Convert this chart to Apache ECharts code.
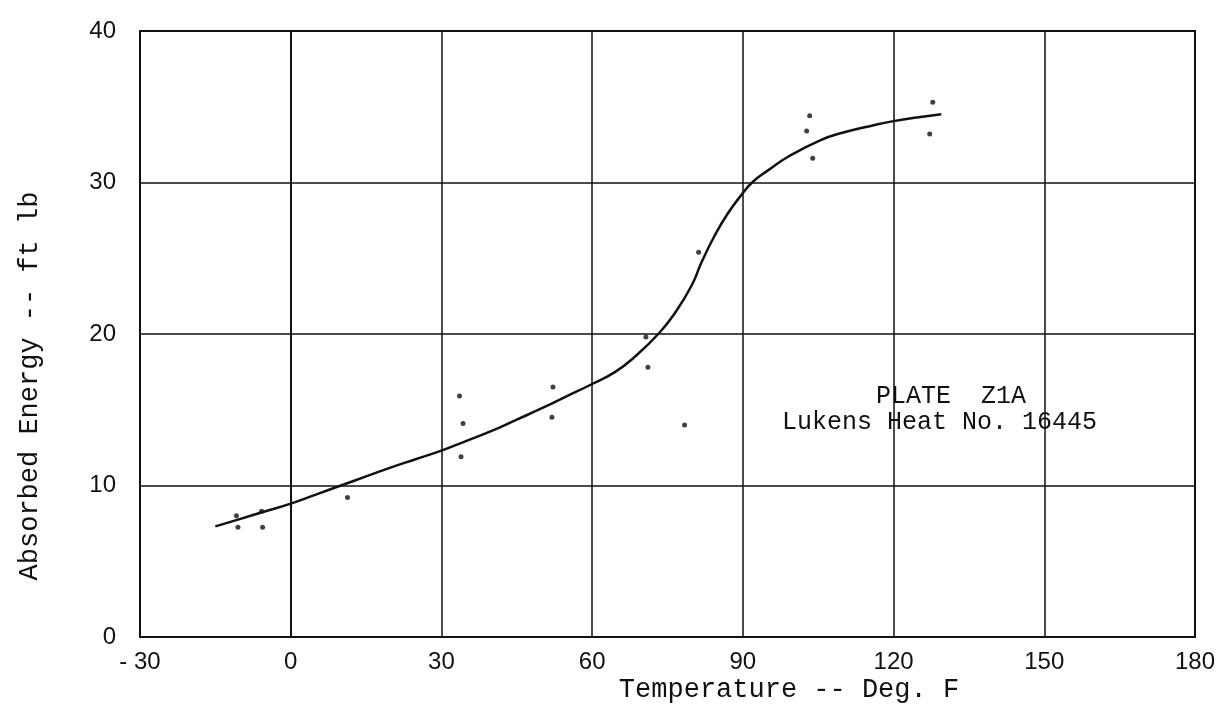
<!DOCTYPE html>
<html>
<head>
<meta charset="utf-8">
<script src="https://cdn.jsdelivr.net/npm/echarts@6/dist/echarts.min.js"></script>
<style>html,body{margin:0;padding:0;background:#fff}#c{width:1225px;height:713px}</style>
</head>
<body>
<div id="c"></div>
<script>
// Smooth fitted curve (Temperature deg F, Absorbed energy ft lb)
const curveT = [-15, -10, -5, 0, 5, 10, 15, 20, 25, 30, 35, 40, 45, 50, 55, 60, 64.6, 68.5, 73.3, 76.5, 79.8, 81.8, 84.4, 87, 90, 92, 95, 99, 105.5, 110, 115, 120, 125, 129.5];
const curveE = [7.3, 7.8, 8.3, 8.8, 9.4, 10.0, 10.6, 11.2, 11.75, 12.3, 12.95, 13.6, 14.35, 15.1, 15.9, 16.7, 17.5, 18.5, 20.05, 21.4, 23.2, 24.75, 26.5, 27.95, 29.3, 30.05, 30.8, 31.7, 32.8, 33.3, 33.7, 34.05, 34.3, 34.5];
// Test points
const pointT = [-10.8, -10.5, -5.8, -5.6, 11.3, 33.6, 34.3, 33.9, 52.2, 52.0, 70.7, 71.1, 78.4, 81.2, 103.3, 102.7, 103.9, 127.8, 127.2];
const pointE = [8.0, 7.25, 8.3, 7.25, 9.2, 15.9, 14.1, 11.9, 16.5, 14.5, 19.8, 17.8, 14.0, 25.4, 34.4, 33.4, 31.6, 35.3, 33.2];
const xTicks = [-30, 0, 30, 60, 90, 120, 150, 180];
const yTicks = [0, 10, 20, 30, 40];
const xTitle = 'Temperature -- Deg. F';
const yTitle = 'Absorbed Energy -- ft lb';
const note1 = 'PLATE  Z1A';
const note2 = 'Lukens Heat No. 16445';

const mono = "'Courier New', 'Liberation Mono', monospace";
const hand = "'Liberation Sans', 'DejaVu Sans', sans-serif";

const chart = echarts.init(document.getElementById('c'));
chart.setOption({
  animation: false,
  backgroundColor: '#fff',
  grid: { left: 140, right: 30, top: 31, bottom: 76, show: true, borderColor: '#111', borderWidth: 2 },
  xAxis: {
    type: 'value', min: xTicks[0], max: xTicks[xTicks.length - 1], interval: 30,
    axisLine: { lineStyle: { color: '#111', width: 2 } },
    axisTick: { show: false },
    axisLabel: { fontFamily: hand, fontSize: 24, color: '#111', margin: 13,
      formatter: v => (v < 0 ? '- ' + Math.abs(v) : String(v)) },
    splitLine: { show: true, lineStyle: { color: '#111', width: 1.5 } }
  },
  yAxis: {
    type: 'value', min: yTicks[0], max: yTicks[yTicks.length - 1], interval: 10,
    axisLine: { show: true, lineStyle: { color: '#111', width: 2 } },
    axisTick: { show: false },
    axisLabel: { fontFamily: hand, fontSize: 24, color: '#111', margin: 24 },
    splitLine: { show: true, lineStyle: { color: '#111', width: 1.5 } }
  },
  series: [
    {
      type: 'line', smooth: 0.5, showSymbol: false,
      data: curveT.map((t, i) => [t, curveE[i]]),
      lineStyle: { color: '#111', width: 2.5 }
    },
    {
      type: 'scatter', symbol: 'circle', symbolSize: 5,
      data: pointT.map((t, i) => [t, pointE[i]]),
      itemStyle: { color: '#111' }
    }
  ],
  graphic: [
    { type: 'text', x: 789, y: 690, style: { text: xTitle, fontFamily: mono, fontSize: 27, fill: '#111', textAlign: 'center', textVerticalAlign: 'middle' } },
    { type: 'text', x: 30, y: 386, rotation: Math.PI / 2, style: { text: yTitle, fontFamily: mono, fontSize: 27, fill: '#111', textAlign: 'center', textVerticalAlign: 'middle' } },
    { type: 'text', left: 876, top: 384, style: { text: note1, fontFamily: mono, fontSize: 25, fill: '#111' } },
    { type: 'text', left: 782, top: 410, style: { text: note2, fontFamily: mono, fontSize: 25, fill: '#111' } }
  ]
});
</script>
</body>
</html>
